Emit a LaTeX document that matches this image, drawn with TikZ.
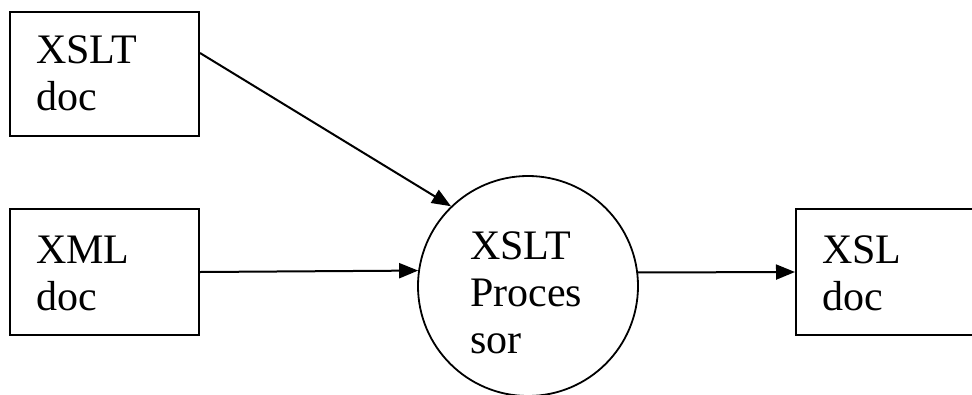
\documentclass[tikz,border=0pt]{standalone}
\usepackage{fontspec}
\setmainfont{Liberation Serif}
\usetikzlibrary{arrows.meta}
\begin{document}
\begin{tikzpicture}[x=1pt,y=-1pt,
  box/.style={draw, line width=2pt, rectangle, inner sep=0pt},
  lbl/.style={anchor=base west, inner sep=0pt, font=\fontsize{42}{47}\selectfont, align=left},
  arr/.style={draw, line width=2pt, -{Triangle[length=19pt,width=15pt]}}]
\useasboundingbox (0,0) rectangle (972,394);
\clip (0,0) rectangle (972,394);
\node[box, minimum width=189pt, minimum height=124pt] (x1) at (104.5,74) {};
\node[box, minimum width=189pt, minimum height=126pt] (x2) at (104.5,272) {};
\node[box, minimum width=190pt, minimum height=126pt] (x3) at (891,272) {};
\node[draw, line width=1.8pt, circle, minimum size=220pt, inner sep=0pt] (p) at (528,286) {};
\node[lbl] (t1) at (36,110) {XSLT\\doc};
\node[lbl] (t2) at (36,310) {XML\\doc};
\node[lbl] (t3) at (470,353) {XSLT\\Proces\\sor};
\node[lbl] (t4) at (822,310) {XSL\\doc};
\draw[arr] ([yshift=21pt]x1.east) -- (p.134);
\draw[arr] (x2.east) -- (p.172.7);
\draw[arr] (p.7.3) -- (x3.west);
\end{tikzpicture}
\end{document}
